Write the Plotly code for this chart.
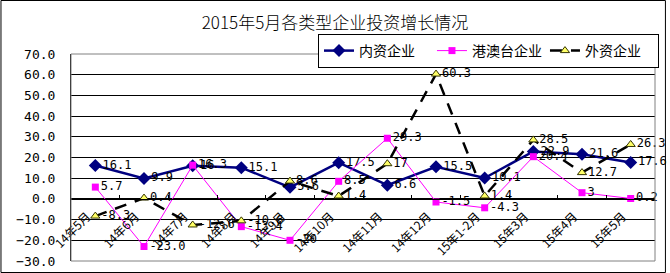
import plotly.graph_objects as go

categories = ["14年5月", "14年6月", "14年7月", "14年8月", "14年9月", "14年10月",
              "14年11月", "14年12月", "15年1-2月", "15年3月", "15年4月", "15年5月"]

domestic = [16.1, 9.9, 16.0, 15.1, 5.6, 17.5, 6.6, 15.5, 10.1, 22.9, 21.6, 17.6]
domestic_labels = ["16.1", "9.9", "16", "15.1", "5.6", "17.5", "6.6", "15.5", "10.1", "22.9", "21.6", "17.6"]

hmt = [5.7, -23.0, 16.3, -13.4, -20, 8.5, 29.3, -1.5, -4.3, 20.4, 3, 0.2]
hmt_labels = ["5.7", "-23.0", "16.3", "-13.4", "-20", "8.5", "29.3", "-1.5", "-4.3", "20.4", "3", "0.2"]

foreign = [-8.3, 0.4, -12.6, -10.6, 8.6, 1.4, 17, 60.3, 1.4, 28.5, 12.7, 26.3]
foreign_labels = ["-8.3", "0.4", "-12.6", "-10.6", "8.6", "1.4", "17", "60.3", "1.4", "28.5", "12.7", "26.3"]

y_ticks = [70, 60, 50, 40, 30, 20, 10, 0, -10, -20, -30]

label_font = dict(family="DejaVu Sans Mono", size=12, color="black")

fig = go.Figure()
fig.add_trace(go.Scatter(
    x=categories, y=domestic, name="内资企业", mode="lines+markers+text",
    text=domestic_labels, textposition="middle right", textfont=label_font,
    line=dict(color="#000080", width=2.5),
    marker=dict(symbol="diamond", size=10, color="#000080"),
    cliponaxis=False,
))
fig.add_trace(go.Scatter(
    x=categories, y=hmt, name="港澳台企业", mode="lines+markers+text",
    text=hmt_labels, textposition="middle right", textfont=label_font,
    line=dict(color="#FF00FF", width=1),
    marker=dict(symbol="square", size=7, color="#FF00FF"),
    cliponaxis=False,
))
fig.add_trace(go.Scatter(
    x=categories, y=foreign, name="外资企业", mode="lines+markers+text",
    text=foreign_labels, textposition="middle right", textfont=label_font,
    line=dict(color="black", width=2.5, dash="12px,9px"),
    marker=dict(symbol="triangle-up", size=8, color="#FFFF66",
                line=dict(color="#333300", width=1)),
    cliponaxis=False,
))

W, H = 588, 207
fig.update_layout(
    width=670, height=273,
    margin=dict(l=71, r=11, t=54, b=12),
    paper_bgcolor="white", plot_bgcolor="white",
    title=dict(text="2015年5月各类型企业投资增长情况", x=0.5, xanchor="center",
               y=1 - 23.5 / 273, yanchor="middle",
               font=dict(family="Noto Sans CJK SC", size=17, color="black", weight=300)),
    showlegend=True,
    legend=dict(orientation="h", x=(663 - 71) / W, xanchor="right",
                y=(261 - 34) / H, yanchor="top",
                bordercolor="black", borderwidth=1, bgcolor="white",
                font=dict(family="Noto Sans CJK SC", size=14, color="black"),
                itemwidth=30, tracegroupgap=0, entrywidth=68),
    xaxis=dict(
        type="category", range=[-0.5, 11.5],
        anchor="free", position=0.3,
        showline=True, linecolor="black", linewidth=1,
        showgrid=False, zeroline=False,
        ticks="inside", ticklen=4, tickcolor="black", tickson="boundaries",
        tickangle=-45, automargin=False,
        ticklabelstandoff=5, ticklabelshift=-8,
        tickfont=dict(family="Noto Sans CJK SC", size=12, color="black"),
    ),
    yaxis=dict(
        range=[-30, 70], tickvals=y_ticks, tickformat=".1f",
        showgrid=True, gridcolor="black", gridwidth=1,
        zeroline=True, zerolinecolor="black", zerolinewidth=1,
        showline=True, linecolor="black", linewidth=1,
        ticks="", automargin=False, ticklabelstandoff=12,
        tickfont=dict(family="DejaVu Sans Mono", size=13, color="black"),
    ),
    shapes=[
        dict(type="rect", xref="paper", yref="paper", x0=0, x1=1, y0=0, y1=1,
             line=dict(color="#808080", width=1), layer="above"),
        dict(type="rect", xref="paper", yref="paper",
             x0=(0.5 - 71) / W, x1=(669.5 - 71) / W,
             y0=(261 - 272.5) / H, y1=(261 - 0.5) / H,
             line=dict(color="black", width=1), layer="above"),
    ],
)

fig.write_html("out.html")
